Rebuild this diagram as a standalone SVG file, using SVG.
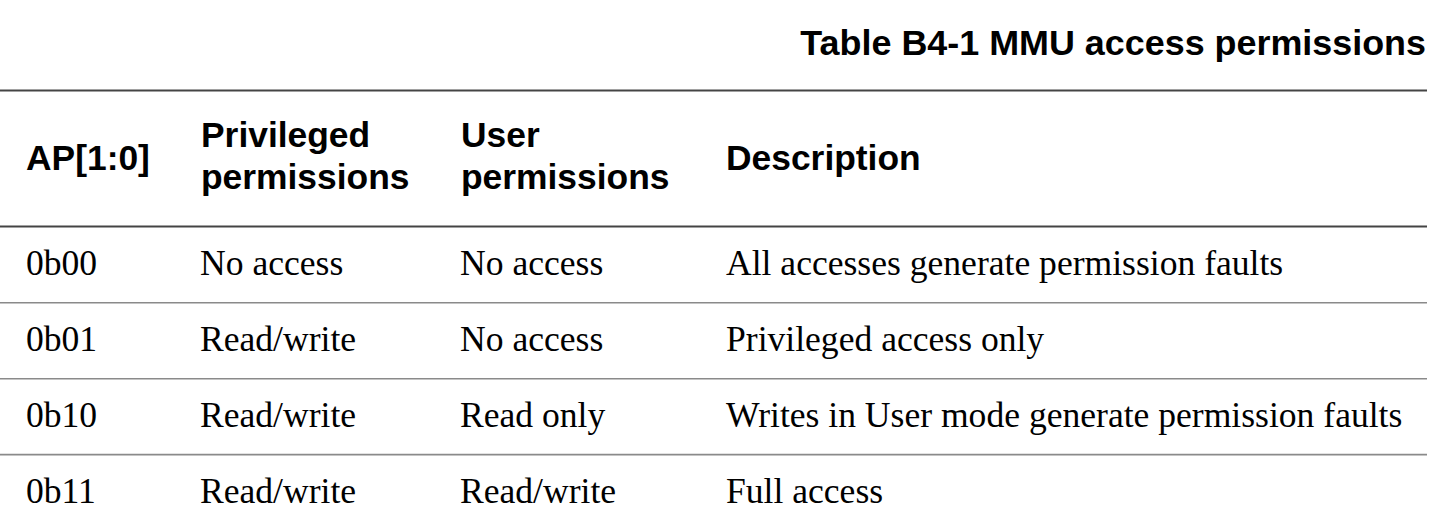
<svg xmlns="http://www.w3.org/2000/svg" width="1448" height="526" viewBox="0 0 1448 526">
<style>
.title{font-family:"Liberation Sans",Arial,sans-serif;font-weight:bold;font-size:35.9px;fill:#000}
.hd{font-family:"Liberation Sans",Arial,sans-serif;font-weight:bold;font-size:35.4px;fill:#000}
.bd{font-family:"Liberation Serif","Times New Roman",serif;font-size:35.6px;fill:#000}
.rule{stroke:#444;stroke-width:2.2}
.sep{stroke:#8a8a8a;stroke-width:1.6}
</style>
<rect width="1448" height="526" fill="#fff"/>
<g id="title">
<text class="title" x="1426" y="55" text-anchor="end">Table B4-1 MMU access permissions</text>
</g>
<g id="rules">
<line class="rule" x1="0" y1="90.5" x2="1427" y2="90.5"/>
<line class="rule" x1="0" y1="226.5" x2="1427" y2="226.5"/>
<line class="sep" x1="0" y1="302.8" x2="1427" y2="302.8"/>
<line class="sep" x1="0" y1="378.8" x2="1427" y2="378.8"/>
<line class="sep" x1="0" y1="454.6" x2="1427" y2="454.6"/>
</g>
<g id="header">
<text class="hd" x="26" y="170">AP[1:0]</text>
<text class="hd" x="201" y="147">Privileged</text>
<text class="hd" x="201" y="189">permissions</text>
<text class="hd" x="461" y="147">User</text>
<text class="hd" x="461" y="189">permissions</text>
<text class="hd" x="726" y="170">Description</text>
</g>
<g id="row-0b00">
<text class="bd" x="26" y="275">0b00</text>
<text class="bd" x="200" y="275">No access</text>
<text class="bd" x="460" y="275">No access</text>
<text class="bd" x="726" y="275">All accesses generate permission faults</text>
</g>
<g id="row-0b01">
<text class="bd" x="26" y="351">0b01</text>
<text class="bd" x="200" y="351">Read/write</text>
<text class="bd" x="460" y="351">No access</text>
<text class="bd" x="726" y="351">Privileged access only</text>
</g>
<g id="row-0b10">
<text class="bd" x="26" y="427">0b10</text>
<text class="bd" x="200" y="427">Read/write</text>
<text class="bd" x="460" y="427">Read only</text>
<text class="bd" x="726" y="427">Writes in User mode generate permission faults</text>
</g>
<g id="row-0b11">
<text class="bd" x="26" y="503">0b11</text>
<text class="bd" x="200" y="503">Read/write</text>
<text class="bd" x="460" y="503">Read/write</text>
<text class="bd" x="726" y="503">Full access</text>
</g>
</svg>
